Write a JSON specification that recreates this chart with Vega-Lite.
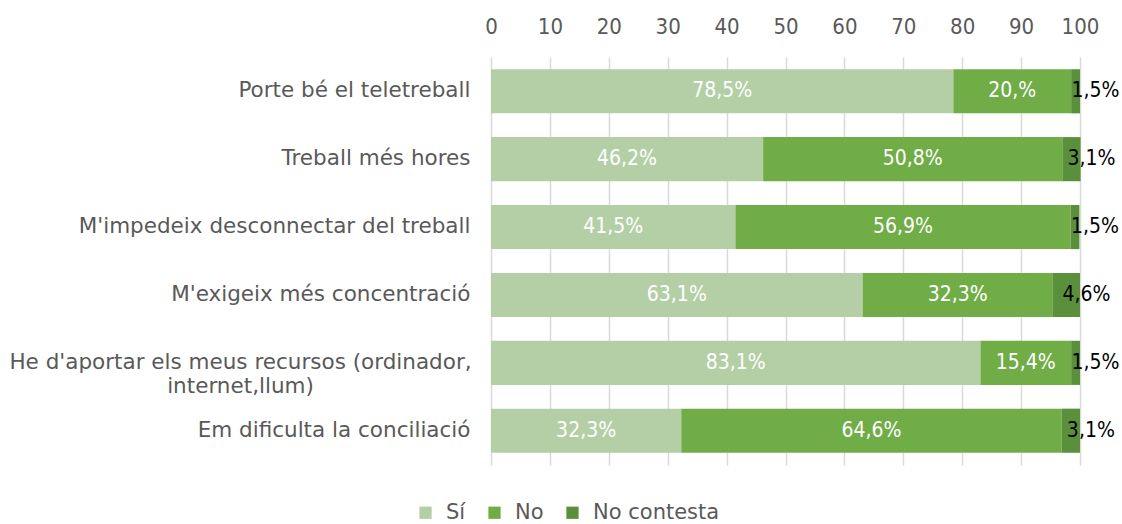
{
  "$schema": "https://vega.github.io/schema/vega-lite/v6.json",
  "width": 589,
  "height": 408,
  "padding": {"left": 8, "top": 15, "right": 2, "bottom": 0},
  "config": {"font": "DejaVu Sans Condensed", "view": {"stroke": null}},
  "data": {
    "values": [
      {"cat": "Porte bé el teletreball", "resp": "Sí", "k": 1, "value": 78.5, "label": "78,5%"},
      {"cat": "Porte bé el teletreball", "resp": "No", "k": 2, "value": 20.0, "label": "20,%"},
      {"cat": "Porte bé el teletreball", "resp": "No contesta", "k": 3, "value": 1.5, "label": "1,5%"},
      {"cat": "Treball més hores", "resp": "Sí", "k": 1, "value": 46.2, "label": "46,2%"},
      {"cat": "Treball més hores", "resp": "No", "k": 2, "value": 50.8, "label": "50,8%"},
      {"cat": "Treball més hores", "resp": "No contesta", "k": 3, "value": 3.1, "label": "3,1%"},
      {"cat": "M'impedeix desconnectar del treball", "resp": "Sí", "k": 1, "value": 41.5, "label": "41,5%"},
      {"cat": "M'impedeix desconnectar del treball", "resp": "No", "k": 2, "value": 56.9, "label": "56,9%"},
      {"cat": "M'impedeix desconnectar del treball", "resp": "No contesta", "k": 3, "value": 1.5, "label": "1,5%"},
      {"cat": "M'exigeix més concentració", "resp": "Sí", "k": 1, "value": 63.1, "label": "63,1%"},
      {"cat": "M'exigeix més concentració", "resp": "No", "k": 2, "value": 32.3, "label": "32,3%"},
      {"cat": "M'exigeix més concentració", "resp": "No contesta", "k": 3, "value": 4.6, "label": "4,6%"},
      {"cat": "He d'aportar els meus recursos (ordinador, internet,llum)", "resp": "Sí", "k": 1, "value": 83.1, "label": "83,1%"},
      {"cat": "He d'aportar els meus recursos (ordinador, internet,llum)", "resp": "No", "k": 2, "value": 15.4, "label": "15,4%"},
      {"cat": "He d'aportar els meus recursos (ordinador, internet,llum)", "resp": "No contesta", "k": 3, "value": 1.5, "label": "1,5%"},
      {"cat": "Em dificulta la conciliació", "resp": "Sí", "k": 1, "value": 32.3, "label": "32,3%"},
      {"cat": "Em dificulta la conciliació", "resp": "No", "k": 2, "value": 64.6, "label": "64,6%"},
      {"cat": "Em dificulta la conciliació", "resp": "No contesta", "k": 3, "value": 3.1, "label": "3,1%"}
    ]
  },
  "transform": [
    {"stack": "value", "groupby": ["cat"], "sort": [{"field": "k"}], "as": ["v0", "v1"]},
    {"calculate": "(datum.v0 + datum.v1) / 2", "as": "mid"}
  ],
  "encoding": {
    "y": {
      "field": "cat",
      "type": "nominal",
      "sort": null,
      "scale": {"paddingInner": 0.35, "paddingOuter": 0.18},
      "axis": {
        "title": null,
        "domain": false,
        "ticks": false,
        "labelFont": "DejaVu Sans",
        "labelFontSize": 21.5,
        "labelColor": "#595959",
        "labelLimit": 0,
        "labelLineHeight": 24,
        "labelExpr": "split(replace(datum.label, ', ', ',|'), '|')",
        "labelAlign": {"condition": {"test": "indexof(datum.label, 'ordinador') >= 0", "value": "center"}, "value": "right"},
        "labelPadding": {"condition": {"test": "indexof(datum.label, 'ordinador') >= 0", "value": 251}, "value": 21}
      }
    }
  },
  "layer": [
    {
      "mark": {"type": "bar"},
      "encoding": {
        "x": {
          "field": "v0",
          "type": "quantitative",
          "scale": {"domain": [0, 100]},
          "axis": {
            "orient": "top",
            "title": null,
            "domain": false,
            "ticks": false,
            "grid": true,
            "gridColor": "#d9d9d9",
            "gridWidth": 1.5,
            "values": [0, 10, 20, 30, 40, 50, 60, 70, 80, 90, 100],
            "labelFontSize": 22,
            "labelColor": "#595959",
            "labelPadding": 19,
            "labelFlush": false
          }
        },
        "x2": {"field": "v1"},
        "color": {
          "field": "resp",
          "type": "nominal",
          "scale": {"domain": ["Sí", "No", "No contesta"], "range": ["#b4cfa6", "#70ad47", "#5a8f3b"]},
          "legend": {
            "title": null,
            "orient": "none",
            "direction": "horizontal",
            "legendX": -76,
            "legendY": 445,
            "symbolType": "square",
            "symbolSize": 150,
            "symbolStrokeWidth": 0,
            "labelFont": "DejaVu Sans",
            "labelFontSize": 21,
            "labelColor": "#595959",
            "labelOffset": 10,
            "columnPadding": 18
          }
        }
      }
    },
    {
      "transform": [{"filter": "datum.resp != 'No contesta'"}],
      "mark": {"type": "text", "color": "white", "fontSize": 21},
      "encoding": {
        "x": {"field": "mid", "type": "quantitative"},
        "text": {"field": "label"}
      }
    },
    {
      "transform": [{"filter": "datum.resp == 'No contesta'"}],
      "mark": {"type": "text", "color": "black", "fontSize": 21, "dx": 20},
      "encoding": {
        "x": {"field": "mid", "type": "quantitative"},
        "text": {"field": "label"}
      }
    }
  ]
}
